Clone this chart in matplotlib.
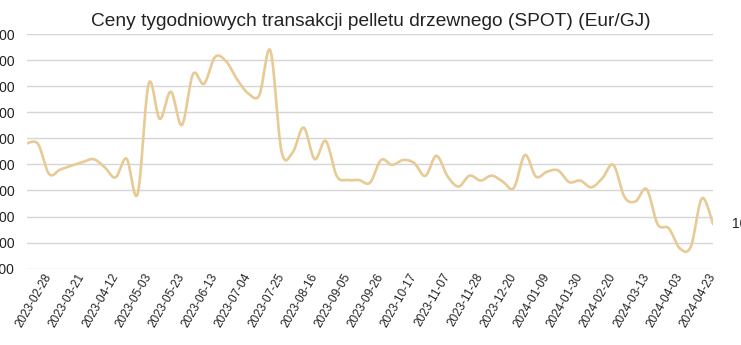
import numpy as np
import matplotlib
matplotlib.use("Agg")
import matplotlib.pyplot as plt

plt.rcParams['font.family'] = ['Liberation Sans', 'DejaVu Sans']

# Ceny tygodniowe (Eur/GJ), od 2023-02-14 do 2024-04-23
ceny = [13.81, 13.78, 12.63, 12.80, 12.95, 13.08, 13.20, 12.90, 12.50, 13.22,
        11.87, 16.10, 14.74, 15.79, 14.51, 16.46, 16.09, 17.12, 16.95, 16.25,
        15.72, 15.66, 17.36, 13.50, 13.45, 14.41, 13.20, 13.90, 12.55, 12.40,
        12.40, 12.30, 13.17, 12.98, 13.17, 13.05, 12.56, 13.33, 12.55, 12.15,
        12.57, 12.38, 12.57, 12.34, 12.10, 13.36, 12.53, 12.72, 12.77, 12.32,
        12.38, 12.12, 12.47, 12.98, 11.75, 11.58, 12.05, 10.70, 10.55, 9.78,
        9.85, 11.70, 10.71]

# etykiety osi X (co trzeci tydzień, od indeksu 2)
etykiety = ["2023-02-28", "2023-03-21", "2023-04-12", "2023-05-03", "2023-05-23",
            "2023-06-13", "2023-07-04", "2023-07-25", "2023-08-16", "2023-09-05",
            "2023-09-26", "2023-10-17", "2023-11-07", "2023-11-28", "2023-12-20",
            "2024-01-09", "2024-01-30", "2024-02-20", "2024-03-13", "2024-04-03",
            "2024-04-23"]
pozycje_etykiet = list(range(2, len(ceny), 3))

y_ticks = np.arange(9, 19, 1)


# wygładzona linia (krzywe Beziera jak w arkuszu kalkulacyjnym)
def wygladz(x, y, n=20):
    x = np.asarray(x, float)
    y = np.asarray(y, float)
    xs, ys = [], []
    for i in range(len(x) - 1):
        i0 = max(i - 1, 0)
        i3 = min(i + 2, len(x) - 1)
        p0 = np.array([x[i], y[i]])
        p3 = np.array([x[i + 1], y[i + 1]])
        p1 = p0 + (np.array([x[i + 1], y[i + 1]]) - np.array([x[i0], y[i0]])) / 6
        p2 = p3 - (np.array([x[i3], y[i3]]) - np.array([x[i], y[i]])) / 6
        t = np.linspace(0, 1, n, endpoint=False)[:, None]
        pts = ((1 - t) ** 3) * p0 + 3 * ((1 - t) ** 2) * t * p1 + 3 * (1 - t) * t ** 2 * p2 + t ** 3 * p3
        xs.extend(pts[:, 0])
        ys.extend(pts[:, 1])
    xs.append(x[-1])
    ys.append(y[-1])
    return np.array(xs), np.array(ys)


x = np.arange(len(ceny))
xs, ys = wygladz(x, ceny)

fig = plt.figure(figsize=(7.41, 3.45), dpi=100)
ax = fig.add_axes([27 / 741, 1 - 268.7 / 345, (713 - 27) / 741, (268.7 - 34) / 345])

ax.plot(xs, ys, color="#E8CA94", linewidth=1.9, solid_capstyle="round")

ax.set_xlim(0, len(ceny) - 1)
ax.set_ylim(9, 18)
ax.set_yticks(y_ticks)
ax.set_yticklabels([f"{v:.2f}" for v in y_ticks], fontsize=10, color="#222222")
ax.set_xticks(pozycje_etykiet)
ax.set_xticklabels(etykiety, fontsize=8.5, color="#222222", rotation=60,
                   ha="right", va="center", rotation_mode="anchor")
ax.tick_params(axis="y", length=0, pad=9)
ax.tick_params(axis="x", length=0, pad=4)
ax.grid(axis="y", color="#D6D6D6", linewidth=1)
ax.set_axisbelow(True)
for s in ax.spines.values():
    s.set_visible(False)

# etykieta ostatniej wartości
ax.annotate(f"{ceny[-1]:.2f}", xy=(x[-1], ceny[-1]), xytext=(14, 0),
            textcoords="offset points", fontsize=10, color="#222222",
            va="center", ha="left", annotation_clip=False)

fig.text(0.5, 1 - 21 / 345, "Ceny tygodniowych transakcji pelletu drzewnego (SPOT) (Eur/GJ)",
         ha="center", va="center", fontsize=13.8, color="#222222")

fig.savefig("out.png", dpi=100)
